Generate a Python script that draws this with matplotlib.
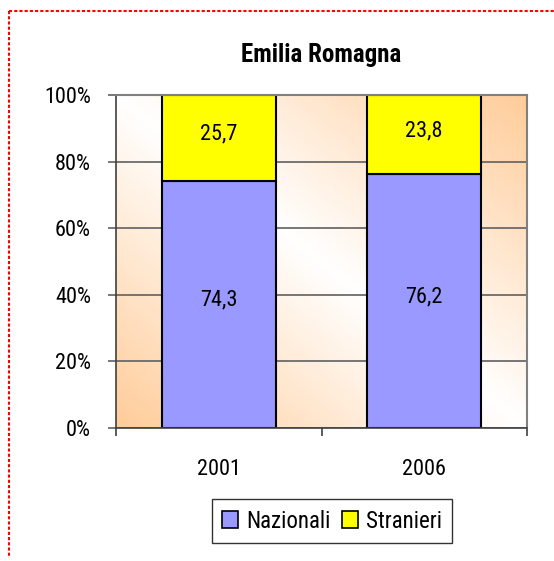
import numpy as np
import matplotlib.pyplot as plt
from matplotlib.lines import Line2D
from matplotlib.patches import Patch

plt.rcParams['font.family'] = ['Roboto Condensed', 'Liberation Sans', 'DejaVu Sans']

years = ['2001', '2006']
nazionali = [74.3, 76.2]
stranieri = [25.7, 23.8]

W, H = 554, 561
fig = plt.figure(figsize=(W / 100, H / 100), dpi=100)
ax = fig.add_axes([116 / W, 1 - 428 / H, (527 - 116) / W, (428 - 95) / H])

# background gradient of the plot area (orange at two corners, white on the diagonal)
xf = np.linspace(0, 1, 300)
yf = np.linspace(0, 1, 300)
v = np.abs(xf[None, :] - yf[:, None])[..., None]
white = np.array([1.0, 1.0, 1.0])
orange = np.array([255, 204, 153]) / 255
grad = white * (1 - v) + orange * v
ax.imshow(grad, extent=(-0.5, 1.5, 0, 100), aspect='auto', origin='upper', zorder=0)

x = np.arange(len(years))
bw = 0.555
ax.bar(x, nazionali, bw, color='#9999FF', edgecolor='black', lw=1.5, zorder=2, label='Nazionali')
ax.bar(x, stranieri, bw, bottom=nazionali, color='#FFFF00', edgecolor='black', lw=1.5, zorder=2, label='Stranieri')

for i in range(len(years)):
    ax.annotate(f"{nazionali[i]:.1f}".replace('.', ','), (x[i], nazionali[i] / 2),
                xytext=(0, 3), textcoords='offset points',
                ha='center', va='center', fontsize=16, zorder=3)
    ax.annotate(f"{stranieri[i]:.1f}".replace('.', ','), (x[i], nazionali[i] + stranieri[i] / 2),
                xytext=(0, 3), textcoords='offset points',
                ha='center', va='center', fontsize=16, zorder=3)

ax.set_xlim(-0.5, 1.5)
ax.set_ylim(0, 100)
ax.set_yticks(np.arange(0, 101, 20))
ax.set_yticklabels([f"{t}%" for t in range(0, 101, 20)])
ax.yaxis.grid(True, color='#606060', lw=1.2)
ax.set_axisbelow(True)
ax.set_xticks([-0.5, 0.5, 1.5])
ax.set_xticklabels([])
ax.set_xticks(x, minor=True)
ax.set_xticklabels(years, minor=True)
ax.tick_params(axis='x', which='major', direction='out', length=6, width=1.2, color='#404040')
ax.tick_params(axis='x', which='minor', length=0, pad=22, labelsize=16)
ax.tick_params(axis='y', direction='out', length=6, width=1.2, color='#606060', pad=12, labelsize=16)

for s in ['top', 'right']:
    ax.spines[s].set_color('#808080')
    ax.spines[s].set_linewidth(1.5)
for s in ['left', 'bottom']:
    ax.spines[s].set_color('#404040')
    ax.spines[s].set_linewidth(1.2)

fig.text(321 / W, 1 - 55 / H, 'Emilia Romagna', ha='center', va='center',
         fontsize=18, fontweight='bold')

handles = [Patch(facecolor='#9999FF', edgecolor='black', lw=1.2),
           Patch(facecolor='#FFFF00', edgecolor='black', lw=1.2)]
leg = fig.legend(handles, ['Nazionali', 'Stranieri'], loc='center',
                 bbox_to_anchor=(332 / W, 1 - 521 / H), ncol=2, fontsize=16.5,
                 frameon=True, fancybox=False, handlelength=0.7, handleheight=0.7,
                 handletextpad=0.35, columnspacing=0.5, borderpad=0.45, borderaxespad=0)
leg.get_frame().set_edgecolor('black')
leg.get_frame().set_linewidth(1.0)

# dotted red border
fig.add_artist(Line2D([9 / W, 1], [1 - 10.5 / H, 1 - 10.5 / H], transform=fig.transFigure,
                      color='red', lw=1.5, linestyle=(0, (1.5, 1))))
fig.add_artist(Line2D([9 / W, 9 / W], [1 - 10.5 / H, 1 - 558 / H], transform=fig.transFigure,
                      color='red', lw=1.5, linestyle=(0, (1.5, 1))))

fig.savefig('out.png', dpi=100)
